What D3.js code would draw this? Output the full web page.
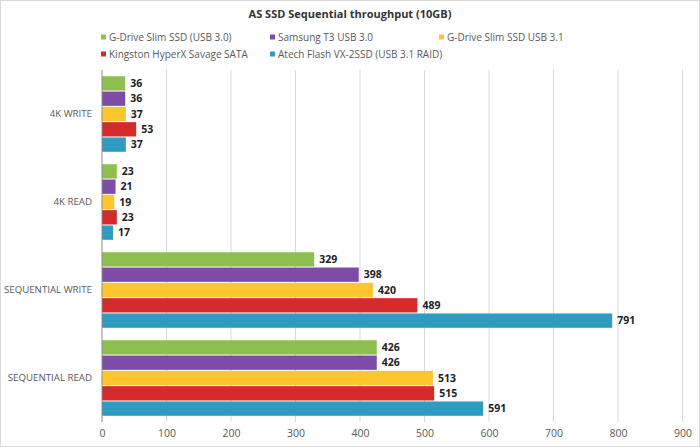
<!DOCTYPE html>
<html><head><meta charset="utf-8">
<script src="https://cdn.jsdelivr.net/npm/d3@7"></script>
<style>
body{margin:0;background:#fff;}
svg{display:block;font-family:"Open Sans",sans-serif;}
</style></head><body>
<script>
const categories = ["4K WRITE","4K READ","SEQUENTIAL WRITE","SEQUENTIAL READ"];
const seriesNames = ["G-Drive Slim SSD (USB 3.0)","Samsung T3 USB 3.0","G-Drive Slim SSD USB 3.1","Kingston HyperX Savage SATA","Atech Flash VX-2SSD (USB 3.1 RAID)"];
const gdrive30 = [36,23,329,426];
const samsungT3 = [36,21,398,426];
const gdrive31 = [37,19,420,513];
const kingston = [53,23,489,515];
const atech = [37,17,791,591];
const xTicks = [0,100,200,300,400,500,600,700,800,900];
const colors = ["#8fc04f","#7f4ba8","#fec52e","#d42a2a","#2f9bc0"];
const seriesValues = [gdrive30,samsungT3,gdrive31,kingston,atech];

const W=700,H=447;
const svg=d3.select("body").append("svg").attr("width",W).attr("height",H);
svg.append("rect").attr("x",0.5).attr("y",0.5).attr("width",W-1).attr("height",H-1).attr("fill","#fff").attr("stroke","#d9d9d9");

const x=d3.scaleLinear().domain([0,900]).range([102,682.5]);
const y0=d3.scaleBand().domain(categories).range([70,422]).paddingInner(0.13).paddingOuter(0.065);
const y1=d3.scaleBand().domain(d3.range(5)).range([0,y0.bandwidth()]);

// grid
svg.append("g").selectAll("line").data(xTicks.slice(1)).join("line")
  .attr("x1",d=>x(d)).attr("x2",d=>x(d)).attr("y1",70).attr("y2",422)
  .attr("stroke","#d9d9d9").attr("stroke-width",1);

// bars
const groups=svg.append("g").selectAll("g").data(categories).join("g")
  .attr("transform",c=>`translate(0,${y0(c)})`);
groups.each(function(c,ci){
  const g=d3.select(this);
  seriesValues.forEach((vals,si)=>{
    g.append("rect").attr("x",x(0)).attr("y",y1(si)+0.5)
     .attr("width",x(vals[ci])-x(0)).attr("height",y1.bandwidth()-1)
     .attr("fill",colors[si]);
    g.append("text").attr("x",x(vals[ci])+5).attr("y",y1(si)+y1.bandwidth()/2)
     .attr("dy","0.35em").attr("font-size",10.5).attr("font-weight","bold").attr("fill","#222")
     .text(vals[ci]);
  });
});

// axis line
svg.append("line").attr("x1",x(0)).attr("x2",x(0)).attr("y1",70).attr("y2",422).attr("stroke","#8c8c8c");

// x axis
const xa=svg.append("g").attr("transform","translate(0,422)")
  .call(d3.axisBottom(x).tickValues(xTicks).tickSize(0).tickPadding(8));
xa.select(".domain").remove();
xa.selectAll("text").attr("font-size",10.5).attr("fill","#595959").attr("font-family","Open Sans");

// y axis labels
const ya=svg.append("g").attr("transform",`translate(${x(0)},0)`)
  .call(d3.axisLeft(y0).tickSize(0).tickPadding(10));
ya.select(".domain").remove();
ya.selectAll("text").attr("font-size",9.7).attr("fill","#595959").attr("font-family","Open Sans");

// title
svg.append("text").attr("x",350).attr("y",18).attr("text-anchor","middle")
  .attr("font-size",11).attr("font-weight","bold").attr("fill","#333").text("AS SSD Sequential throughput (10GB)");

// legend
const legPos=[[101,37],[270,37],[439,37],[101,54],[270,54]];
seriesNames.forEach((n,i)=>{
  const [lx,ly]=legPos[i];
  svg.append("rect").attr("x",lx).attr("y",ly-2.5).attr("width",5).attr("height",5).attr("fill",colors[i]);
  svg.append("text").attr("x",lx+8).attr("y",ly).attr("dy","0.35em").attr("font-size",10)
    .attr("fill","#595959").text(n);
});
</script>
</body></html>
